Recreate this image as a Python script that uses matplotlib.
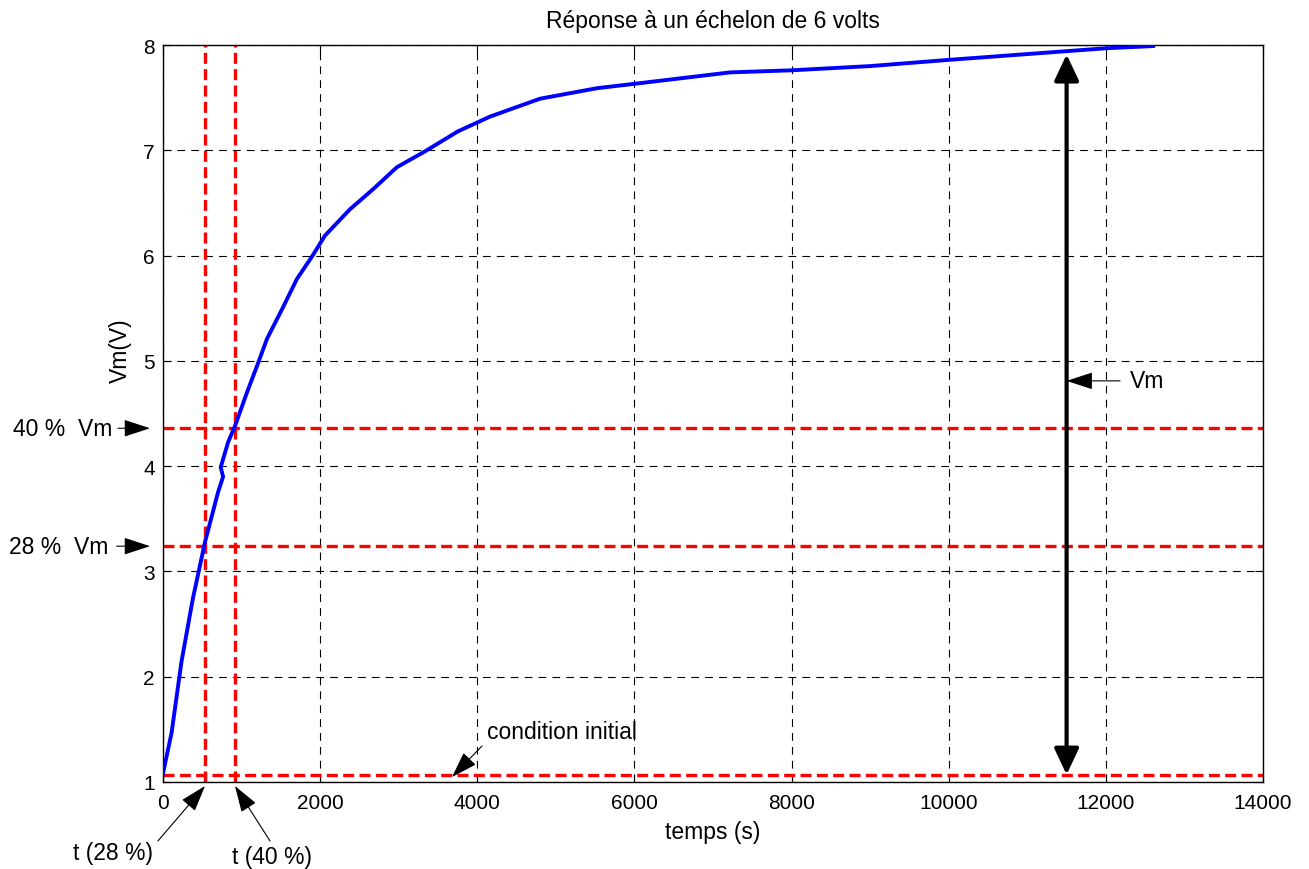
import matplotlib
matplotlib.use("Agg")
import matplotlib.pyplot as plt

plt.rcParams['font.family'] = ['Liberation Sans', 'DejaVu Sans']

# step response
t = [0, 110, 235, 380, 535, 700, 765, 735, 830, 916, 1069, 1196, 1324, 1515,
     1706, 1896, 2062, 2380, 2673, 2978, 3335, 3754, 4162, 4798, 5524, 5982,
     7217, 8006, 9000, 10017, 12015, 12600]
vm = [1.08, 1.47, 2.14, 2.74, 3.28, 3.75, 3.90, 3.99, 4.23, 4.38, 4.70, 4.95,
      5.21, 5.49, 5.78, 5.99, 6.19, 6.44, 6.63, 6.84, 6.99, 7.18, 7.32, 7.49,
      7.59, 7.63, 7.74, 7.76, 7.80, 7.86, 7.97, 7.99]

v_init = 1.07
v_28 = 3.24
v_40 = 4.36
t_28 = 535
t_40 = 916
t_vm = 11500
v_top = 7.91

fig = plt.figure(figsize=(13.09, 8.7), dpi=100)
ax = fig.add_axes([0.1245, 0.1, 0.8404, 0.8471])

ax.plot(t, vm, color='blue', lw=2.8, zorder=3)

red = dict(color='red', lw=2.4, ls=(0, (3.3, 1.6)), zorder=2)
for v in (v_init, v_28, v_40):
    ax.axhline(v, **red)
for tt in (t_28, t_40):
    ax.axvline(tt, **red)

ax.set_xlim(0, 14000)
ax.set_ylim(1, 8)
ax.set_xticks(range(0, 14001, 2000))
ax.set_yticks(range(1, 9))
ax.tick_params(direction='in', labelsize=15, length=6, top=True, right=True,
               labeltop=False, labelright=False)
ax.tick_params(axis='x', pad=8)
ax.tick_params(axis='y', pad=6)
ax.grid(True, color='black', ls=(0, (7, 5.5)), lw=0.8)
for s in ax.spines.values():
    s.set_linewidth(1.0)

ax.set_title('Réponse à un échelon de 6 volts', fontsize=16.5, pad=13)
ax.set_xlabel('temps (s)', fontsize=16.5)
ax.xaxis.set_label_coords(0.5, -0.052)
ax.set_ylabel('Vm(V)', fontsize=16.5)
ax.yaxis.set_label_coords(-0.028, 0.586)

# double arrow for Vm
ax.annotate('', xy=(t_vm, v_top), xytext=(t_vm, v_init),
            arrowprops=dict(arrowstyle='<|-|>,head_length=0.53,head_width=0.25',
                            color='black', lw=3, mutation_scale=30,
                            shrinkA=0, shrinkB=0))

thin = dict(arrowstyle='-|>,head_length=0.55,head_width=0.18', color='black',
            lw=0.8, mutation_scale=30, shrinkA=0, shrinkB=0)


def pointer(label, tx, ty, x0, y0, x1, y1, va='center'):
    ax.text(tx, ty, label, fontsize=16.5, ha='left', va=va, clip_on=False)
    ax.annotate('', xy=(x1, y1), xytext=(x0, y0), annotation_clip=False,
                arrowprops=thin)


pointer('Vm', 12307, 4.81, 12180, 4.81, t_vm, 4.81)
pointer('condition initial', 4124, 1.484, 4060, 1.342, 3678, 1.047)
pointer('40 %  Vm', -1909, v_40, -573, v_40, -165, v_40)
pointer('28 %  Vm', -1960, v_28, -590, v_28, -165, v_28)
pointer('t (28 %)', -1145, 0.335, -64, 0.44, t_28, 0.962)
pointer('t (40 %)', 878, 0.297, 1362, 0.44, t_40, 0.962)

fig.savefig('out.png', dpi=100)
